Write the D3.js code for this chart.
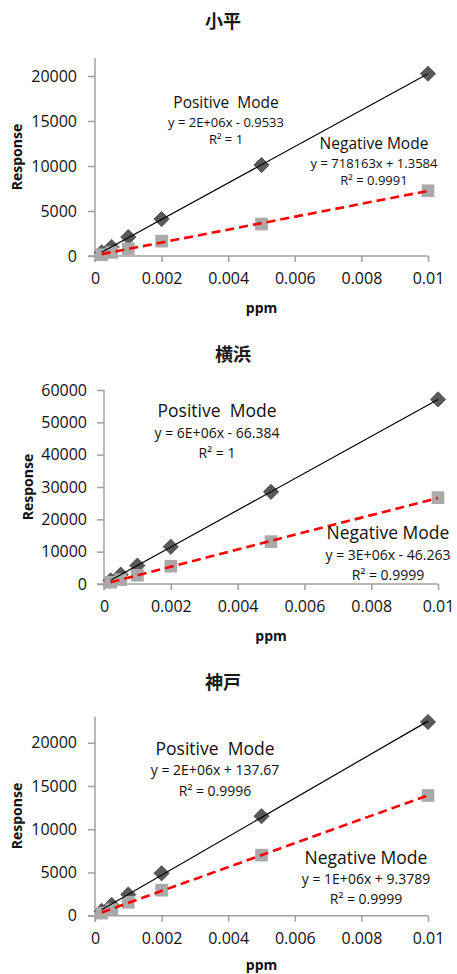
<!DOCTYPE html>
<html>
<head>
<meta charset="utf-8">
<script src="https://cdn.jsdelivr.net/npm/d3@7"></script>
<style>
  html, body { margin: 0; padding: 0; background: #fff; }
  svg { display: block; }
</style>
</head>
<body>
<svg id="chart" width="457" height="974"></svg>
<script>
// ---------------- data ----------------
const titles = ["小平", "横浜", "神戸"];
const concentrations = [0.0002, 0.0005, 0.001, 0.002, 0.005, 0.01]; // ppm
const kodairaPositive = [400, 1000, 2100, 4100, 10100, 20250];
const kodairaNegative = [150, 400, 800, 1650, 3550, 7250];
const yokohamaPositive = [1100, 2900, 5700, 11500, 28500, 57100];
const yokohamaNegative = [550, 1350, 2700, 5500, 13100, 26700];
const kobePositive = [550, 1250, 2450, 4900, 11500, 22400];
const kobeNegative = [300, 700, 1550, 2950, 7000, 13900];

const xTicks = [0, 0.002, 0.004, 0.006, 0.008, 0.01];
const xTickLabels = ["0", "0.002", "0.004", "0.006", "0.008", "0.01"];
const yTicksKodaira = [0, 5000, 10000, 15000, 20000];
const yTicksYokohama = [0, 10000, 20000, 30000, 40000, 50000, 60000];
const yTicksKobe = [0, 5000, 10000, 15000, 20000];
const yMaxes = [22000, 60000, 23000];

const positiveLabels = ["Positive  Mode", "Positive  Mode", "Positive  Mode"];
const negativeLabels = ["Negative Mode", "Negative Mode", "Negative Mode"];
const positiveEquations = ["y = 2E+06x - 0.9533", "y = 6E+06x - 66.384", "y = 2E+06x + 137.67"];
const positiveR2 = ["R² = 1", "R² = 1", "R² = 0.9996"];
const negativeEquations = ["y = 718163x + 1.3584", "y = 3E+06x - 46.263", "y = 1E+06x + 9.3789"];
const negativeR2 = ["R² = 0.9991", "R² = 0.9999", "R² = 0.9999"];
const xAxisLabel = "ppm";
const yAxisLabel = "Response";

// ---------------- layout ----------------
const panels = [
  { pos: kodairaPositive, neg: kodairaNegative, yTicks: yTicksKodaira, yMax: yMaxes[0],
    x0: 95, x1: 428, yBottom: 256, yTop: 58,
    title: [223, 22], resp: [17, 157], ppmY: 308, yLabelEnd: 77,
    posAnn: [226, 103, 15.5, 13, 19, 17], negAnn: [374, 144, 15.5, 13, 19, 17] },
  { pos: yokohamaPositive, neg: yokohamaNegative, yTicks: yTicksYokohama, yMax: yMaxes[1],
    x0: 104, x1: 438, yBottom: 584, yTop: 390,
    title: [233, 355], resp: [28, 487], ppmY: 636, yLabelEnd: 87,
    posAnn: [217, 411, 17.5, 14, 22, 20], negAnn: [388, 533, 17.5, 14, 22, 20] },
  { pos: kobePositive, neg: kobeNegative, yTicks: yTicksKobe, yMax: yMaxes[2],
    x0: 95, x1: 428, yBottom: 915.7, yTop: 716.8,
    title: [223, 683], resp: [17, 816], ppmY: 965, yLabelEnd: 77,
    posAnn: [215, 749, 17.5, 14, 21, 21], negAnn: [366, 858, 17.5, 14, 21, 20] }
];

const FONT = "'Open Sans', 'DejaVu Sans', sans-serif";
const CJK = "'Noto Sans CJK JP', 'Noto Sans CJK SC', sans-serif";
const svg = d3.select("#chart");

function fit(xs, ys) {
  const n = xs.length;
  const mx = d3.mean(xs), my = d3.mean(ys);
  let sxy = 0, sxx = 0;
  for (let i = 0; i < n; i++) { sxy += (xs[i] - mx) * (ys[i] - my); sxx += (xs[i] - mx) ** 2; }
  const m = sxy / sxx;
  return { m, b: my - m * mx };
}

panels.forEach((p, i) => {
  const g = svg.append("g");
  const x = d3.scaleLinear().domain([0, 0.01]).range([p.x0, p.x1]);
  const y = d3.scaleLinear().domain([0, p.yMax]).range([p.yBottom, p.yTop]);

  // title
  g.append("text").attr("x", p.title[0]).attr("y", p.title[1]).attr("dy", "0.35em")
    .attr("text-anchor", "middle").attr("font-family", CJK).attr("font-weight", "bold")
    .attr("font-size", 18).attr("fill", "#1a1a1a").text(titles[i]);

  // y axis
  const ya = g.append("g").attr("transform", `translate(${p.x0},0)`)
    .call(d3.axisLeft(y).tickValues(p.yTicks).tickSize(7).tickSizeOuter(0).tickFormat(d3.format("d")));
  ya.select(".domain").attr("d", `M0,${p.yTop}V${p.yBottom + 6}`);
  ya.selectAll(".tick text").attr("x", -(p.x0 - p.yLabelEnd));

  // x axis
  const xa = g.append("g").attr("transform", `translate(0,${p.yBottom})`)
    .call(d3.axisBottom(x).tickValues(xTicks).tickSize(6).tickSizeOuter(0)
      .tickFormat((d, j) => xTickLabels[j]));
  xa.selectAll(".tick text").attr("y", 17);
  xa.select(".domain").attr("d", `M${p.x0 - 7},0H${p.x1}`);

  [ya, xa].forEach(a => {
    a.attr("font-family", FONT).attr("font-size", 16);
    a.selectAll(".domain, .tick line").attr("stroke", "#a0a0a0").attr("stroke-width", 1.5);
    a.selectAll(".tick text").attr("fill", "#111");
  });

  // axis titles
  g.append("text").attr("x", (p.x0 + p.x1) / 2).attr("y", p.ppmY).attr("dy", "0.35em")
    .attr("text-anchor", "middle").attr("font-family", FONT).attr("font-weight", "bold")
    .attr("font-size", 14).attr("fill", "#111").text(xAxisLabel);
  g.append("text").attr("transform", `translate(${p.resp[0]},${p.resp[1]}) rotate(-90)`)
    .attr("dy", "0.35em").attr("text-anchor", "middle").attr("font-family", FONT)
    .attr("font-weight", "bold").attr("font-size", 14).attr("fill", "#111").text(yAxisLabel);

  // markers
  const diamond = d3.symbol().type(d3.symbolSquare).size(115);
  const square = d3.symbol().type(d3.symbolSquare).size(160);
  g.append("g").selectAll("path").data(concentrations.map((c, j) => [c, p.pos[j]])).join("path")
    .attr("d", diamond).attr("transform", d => `translate(${x(d[0])},${y(d[1])}) rotate(45)`)
    .attr("fill", "#595959").attr("stroke", "#444").attr("stroke-width", 0.8);
  g.append("g").selectAll("path").data(concentrations.map((c, j) => [c, p.neg[j]])).join("path")
    .attr("d", square).attr("transform", d => `translate(${x(d[0])},${y(d[1])})`)
    .attr("fill", "#a9a9a9");

  // trendlines
  const xmin = d3.min(concentrations), xmax = d3.max(concentrations);
  const fp = fit(concentrations, p.pos), fn = fit(concentrations, p.neg);
  g.append("line").attr("x1", x(xmin)).attr("y1", y(fp.m * xmin + fp.b))
    .attr("x2", x(xmax)).attr("y2", y(fp.m * xmax + fp.b))
    .attr("stroke", "#000").attr("stroke-width", 1.2);
  g.append("line").attr("x1", x(xmin)).attr("y1", y(fn.m * xmin + fn.b))
    .attr("x2", x(xmax)).attr("y2", y(fn.m * xmax + fn.b))
    .attr("stroke", "#ff0000").attr("stroke-width", 2.6).attr("stroke-dasharray", "9,5");

  // annotations
  function ann(a, lbl, eq, r2) {
    const [cx, cy, f1, f2, d1, d2] = a;
    g.append("text").attr("x", cx).attr("y", cy).attr("dy", "0.35em").attr("text-anchor", "middle")
      .attr("font-family", FONT).attr("font-size", f1).attr("fill", "#111")
      .attr("xml:space", "preserve").style("white-space", "pre").text(lbl);
    g.append("text").attr("x", cx).attr("y", cy + d1).attr("dy", "0.35em").attr("text-anchor", "middle")
      .attr("font-family", FONT).attr("font-size", f2).attr("fill", "#111").text(eq);
    g.append("text").attr("x", cx).attr("y", cy + d1 + d2).attr("dy", "0.35em").attr("text-anchor", "middle")
      .attr("font-family", FONT).attr("font-size", f2).attr("fill", "#111").text(r2);
  }
  ann(p.posAnn, positiveLabels[i], positiveEquations[i], positiveR2[i]);
  ann(p.negAnn, negativeLabels[i], negativeEquations[i], negativeR2[i]);
});
</script>
</body>
</html>
